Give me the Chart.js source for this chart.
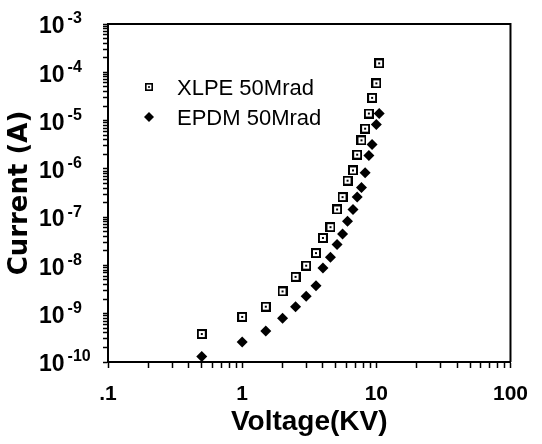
<!DOCTYPE html>
<html>
<head>
<meta charset="utf-8">
<script src="https://cdn.jsdelivr.net/npm/chart.js@4.4.1/dist/chart.umd.min.js"></script>
<style>
html, body { margin: 0; padding: 0; background: #fff; }
#wrap { width: 542px; height: 444px; }
</style>
</head>
<body>
<div id="wrap"><canvas id="chart"></canvas></div>
<script>
// values (log-log)
const voltage = [0.5, 1, 1.5, 2, 2.5, 3, 3.55, 4, 4.55, 5.1, 5.6, 6.1, 6.7, 7.2, 7.75, 8.25, 8.8, 9.3, 10, 10.5];
const xlpe = [3.8e-10, 8.6e-10, 1.4e-9, 2.9e-9, 5.8e-9, 9.9e-9, 1.8e-8, 3.7e-8, 6.2e-8, 1.44e-7,
              2.6e-7, 5.7e-7, 9.3e-7, 1.97e-6, 3.9e-6, 6.8e-6, 1.4e-5, 2.96e-5, 5.9e-5, 1.53e-4];
const epdm = [1.3e-10, 2.6e-10, 4.4e-10, 8.1e-10, 1.39e-9, 2.3e-9, 3.8e-9, 8.8e-9, 1.47e-8, 2.7e-8,
              4.5e-8, 8.2e-8, 1.44e-7, 2.6e-7, 4.1e-7, 8.3e-7, 1.9e-6, 3.2e-6, 8.3e-6, 1.4e-5];
const seriesNames = ['XLPE 50Mrad', 'EPDM 50Mrad'];

const xMajor = [0.1, 1, 10, 100];
const xTickLabels = ['.1', '1', '10', '100'];
const yExponents = [-3, -4, -5, -6, -7, -8, -9, -10];

const FONT = '"Liberation Sans", Arial, sans-serif';

// log ticks with 2..9 minors between the majors
function logTicks(lo, hi) {
  const out = [];
  for (let d = lo; d < hi * 0.999; d *= 10) {
    for (let m = 1; m < 10; m++) out.push(+(d * m).toPrecision(3));
  }
  out.push(hi);
  return out.map(v => ({value: v}));
}

// hollow square with a dot, like the scanned marker
function squareMark() {
  const c = document.createElement('canvas');
  c.width = c.height = 10;
  const g = c.getContext('2d');
  g.fillStyle = '#000'; g.fillRect(0, 0, 10, 10);
  g.fillStyle = '#fff'; g.fillRect(2, 2, 6, 6);
  g.fillStyle = '#000'; g.fillRect(4, 4, 2, 2);
  return c;
}
const sq = squareMark();

const frame = {
  id: 'frame',
  afterDraw(chart) {
    const {ctx, chartArea: a} = chart;
    ctx.save();
    ctx.strokeStyle = '#000';
    ctx.lineWidth = 2;
    ctx.beginPath();
    ctx.moveTo(a.left, a.top);
    ctx.lineTo(a.right, a.top);
    ctx.lineTo(a.right, a.bottom);
    ctx.stroke();
    ctx.restore();
  }
};

const yLabels = {
  id: 'yLabels',
  afterDraw(chart) {
    const {ctx} = chart;
    const y = chart.scales.y;
    ctx.save();
    ctx.fillStyle = '#000';
    ctx.textBaseline = 'middle';
    ctx.textAlign = 'left';
    yExponents.forEach(e => {
      const py = y.getPixelForValue(Math.pow(10, e));
      ctx.font = 'bold 23px ' + FONT;
      ctx.fillText('10', 39, py + 3);
      const w = ctx.measureText('10').width;
      ctx.font = 'bold 16px ' + FONT;
      ctx.fillText(String(e), 39 + w + 3, py - 5);
    });
    ctx.restore();
  }
};

const legendBox = {
  id: 'legendBox',
  afterDraw(chart) {
    const {ctx} = chart;
    ctx.save();
    ctx.fillStyle = '#000';
    ctx.strokeStyle = '#000';
    ctx.drawImage(sq, 145, 83, 8, 8);
    Chart.helpers.drawPoint(ctx, {pointStyle: 'rectRot', radius: 5, borderWidth: 0}, 149, 117);
    ctx.font = '22px ' + FONT;
    ctx.textBaseline = 'middle';
    ctx.textAlign = 'left';
    ctx.fillText(chart.data.datasets[0].label, 177, 89);
    ctx.fillText(chart.data.datasets[1].label, 177, 119);
    ctx.restore();
  }
};

new Chart(document.getElementById('chart'), {
  type: 'scatter',
  data: {
    datasets: [{
      label: seriesNames[0],
      data: voltage.map((v, i) => ({x: v, y: xlpe[i]})),
      pointStyle: sq,
      pointRadius: 5,
      showLine: false
    }, {
      label: seriesNames[1],
      data: voltage.map((v, i) => ({x: v, y: epdm[i]})),
      pointStyle: 'rectRot',
      pointRadius: 5.5,
      backgroundColor: '#000',
      borderColor: '#000',
      borderWidth: 0,
      showLine: false
    }]
  },
  options: {
    responsive: true,
    maintainAspectRatio: false,
    animation: false,
    devicePixelRatio: 1,
    layout: {padding: {top: 24, right: 30, left: 0, bottom: 0}},
    scales: {
      x: {
        type: 'logarithmic',
        min: 0.1,
        max: 100,
        afterBuildTicks: s => { s.ticks = logTicks(0.1, 100); },
        afterFit: s => { s.height = 82; },
        border: {display: true, color: '#000', width: 2},
        grid: {drawOnChartArea: false, drawTicks: true, tickLength: 6, tickColor: '#000', tickWidth: 1.5},
        ticks: {
          autoSkip: false,
          maxRotation: 0,
          padding: 14,
          color: '#000',
          font: {family: FONT, size: 21, weight: 'bold'},
          callback: v => {
            const k = xMajor.findIndex(m => Math.abs(m - v) < m * 1e-6);
            return k >= 0 ? xTickLabels[k] : '';
          }
        },
        title: {
          display: true,
          text: 'Voltage(KV)',
          color: '#000',
          font: {family: FONT, size: 28, weight: 'bold'},
          padding: {top: 0, bottom: 5}
        }
      },
      y: {
        type: 'logarithmic',
        min: 1e-10,
        max: 1e-3,
        afterBuildTicks: s => { s.ticks = logTicks(1e-10, 1e-3); },
        afterFit: s => { s.width = 108; },
        border: {display: true, color: '#000', width: 2},
        grid: {drawOnChartArea: false, drawTicks: true, tickLength: 5, tickColor: '#000', tickWidth: 1.5},
        ticks: {autoSkip: false, callback: () => ''},
        title: {
          display: true,
          text: 'Current (A)',
          color: '#000',
          font: {family: '"DejaVu Sans", sans-serif', size: 26, weight: 'bold'},
          padding: {top: 5, bottom: 0}
        }
      }
    },
    plugins: {
      legend: {display: false},
      tooltip: {enabled: false}
    }
  },
  plugins: [frame, yLabels, legendBox]
});
</script>
</body>
</html>
